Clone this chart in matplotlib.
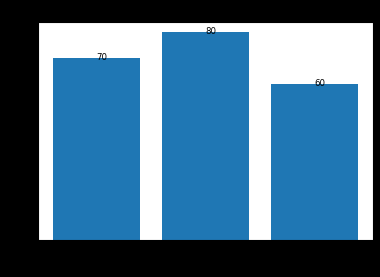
import matplotlib
matplotlib.use("Agg")
import matplotlib.pyplot as plt

categories = ["A", "B", "C"]
values = [70, 80, 60]

fig = plt.figure(figsize=(3.8, 2.77), dpi=100)
fig.patch.set_facecolor("black")
ax = fig.add_axes([0.1, 0.134, 0.882, 0.787])
ax.set_facecolor("white")
ax.bar(categories, values, width=0.8, color="#1f77b4")
for i, v in enumerate(values):
    ax.text(i, v - 0.8, str(v), fontsize=6.2, color="black")
ax.tick_params(labelsize=7, colors="black")
fig.savefig("out.png", dpi=100, facecolor=fig.get_facecolor())
